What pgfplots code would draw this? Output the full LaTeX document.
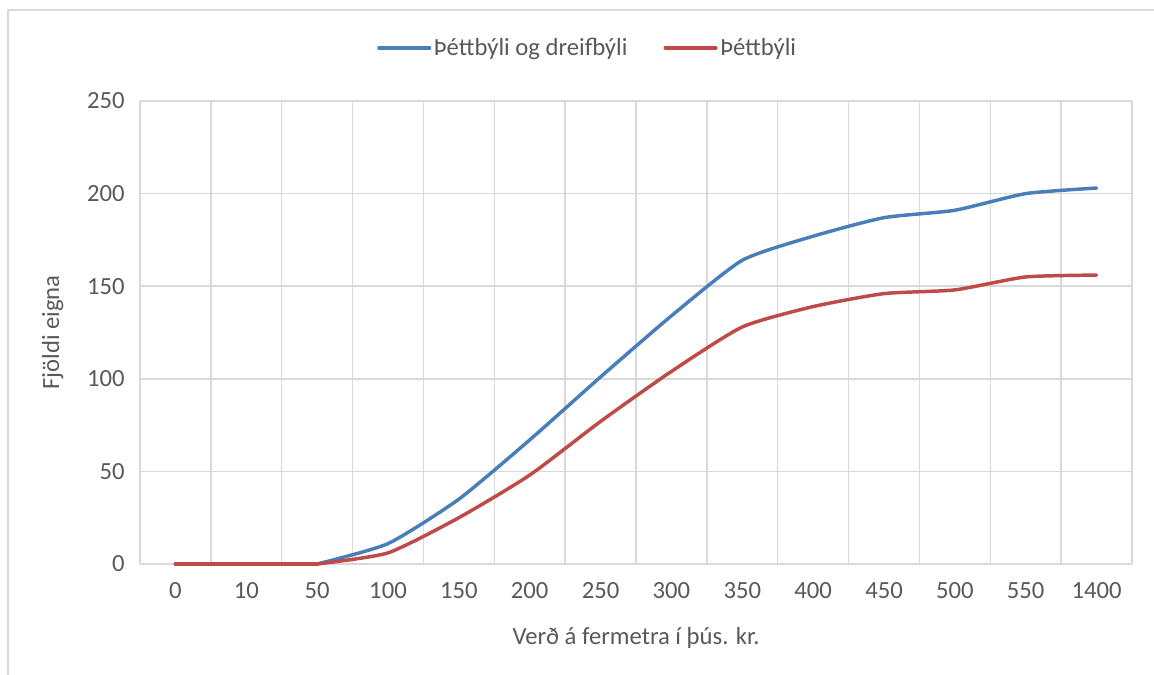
\documentclass[border=0pt]{standalone}
\usepackage{pgfplots}
\pgfplotsset{compat=1.18}
\usepackage{fontspec}
\setmainfont{Carlito}
\definecolor{txt}{HTML}{595959}
\definecolor{gridc}{HTML}{D9D9D9}
\definecolor{sblue}{HTML}{4A7EBB}
\definecolor{sred}{HTML}{BE4B48}
\begin{document}
\begin{tikzpicture}[x=0.75pt,y=0.75pt]
\useasboundingbox (0,0) rectangle (1154,675);
\draw[color=gridc, line width=1pt] (8,0) -- (8,665) -- (1154,665);
\begin{axis}[
  at={(105pt,83.25pt)}, anchor=south west,
  scale only axis, width=744pt, height=347.25pt,
  xmin=-0.5, xmax=13.5, ymin=0, ymax=250,
  xtick={0,...,13},
  xticklabels={0,10,50,100,150,200,250,300,350,400,450,500,550,1400},
  minor xtick={-0.5,0.5,...,13.5},
  ytick={0,50,...,250},
  /pgf/number format/assume math mode=true,
  xmajorgrids=false, xminorgrids=true, ymajorgrids=true,
  minor grid style={color=gridc, line width=1.1pt},
  major grid style={color=gridc, line width=1.1pt},
  axis line style={draw=none},
  tick style={draw=none},
  minor tick length=0pt, major tick length=0pt,
  ticklabel style={font=\fontsize{18.5}{20}\selectfont, text=txt},
  yticklabel style={xshift=-8pt},
  xticklabel style={yshift=-10pt},
  xlabel={Verð á fermetra í þús. kr.},
  ylabel={Fjöldi eigna},
  label style={font=\fontsize{18.5}{20}\selectfont, text=txt},
  xlabel style={yshift=-15pt},
  ylabel style={yshift=11pt},
  legend columns=2,
  legend style={at={(0.4516,1.1145)}, anchor=center, draw=none, fill=none,
    font=\fontsize{18.5}{20}\selectfont, text=txt,
    /tikz/every even column/.append style={column sep=25pt}},
  legend image code/.code={\draw[#1, line width=2.6pt, line cap=round] (0pt,0pt) -- (38pt,0pt);},
  clip=false,
]
\addplot[sblue, line width=2.6pt, smooth, tension=0.35, line cap=round, line join=round] coordinates {
 (2,0) (3,11) (4,35) (5,67) (6,101) (7,134) (8,164) (9,177) (10,187) (11,191) (12,200) (13,203)
};
\addlegendentry{Þéttbýli og dreifbýli}
\addplot[sred, line width=2.6pt, smooth, tension=0.35, line cap=round, line join=round] coordinates {
 (2,0) (3,6) (4,25) (5,48) (6,77) (7,104) (8,128) (9,139) (10,146) (11,148) (12,155) (13,156)
};
\addlegendentry{Þéttbýli}
\addplot[sblue, line width=2.6pt, line cap=round, forget plot] coordinates {(0,0) (1,0) (2,0)};
\addplot[sred, line width=2.6pt, line cap=round, forget plot] coordinates {(0,0) (1,0) (2,0)};
\end{axis}
\end{tikzpicture}
\end{document}
